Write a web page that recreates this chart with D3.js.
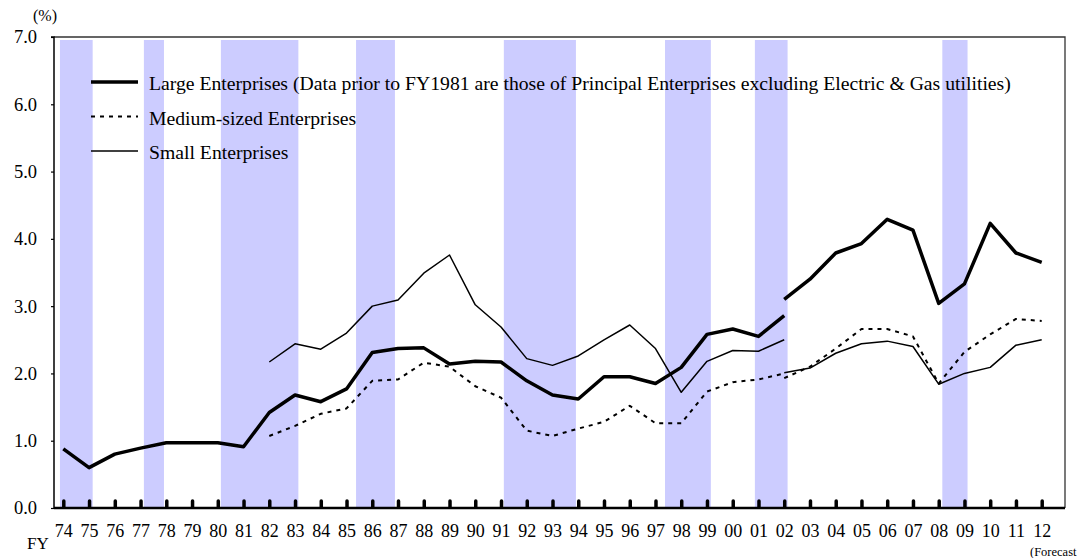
<!DOCTYPE html>
<html>
<head>
<meta charset="utf-8">
<script src="https://cdn.jsdelivr.net/npm/d3@7"></script>
<style>
  html, body { margin: 0; padding: 0; background: #fff; }
  svg { display: block; font-family: "Liberation Serif", "Times New Roman", serif; }
</style>
</head>
<body>
<div id="chart"></div>
<script>
// fiscal years (axis)
const years = d3.range(1974, 2013);

// large enterprises, old basis (FY74-02) and new basis (FY02-12)
const largeOldYears = d3.range(1974, 2003);
const largeOld = [0.88, 0.60, 0.80, 0.89, 0.97, 0.97, 0.97, 0.91, 1.42, 1.68,
  1.58, 1.77, 2.31, 2.37, 2.38, 2.14, 2.18, 2.17, 1.89, 1.68,
  1.62, 1.95, 1.95, 1.85, 2.09, 2.58, 2.66, 2.55, 2.86];
const newYears = d3.range(2002, 2013);
const largeNew = [3.10, 3.40, 3.79, 3.93, 4.29, 4.13, 3.04, 3.33, 4.23, 3.79, 3.65];

// medium-sized enterprises
const midOldYears = d3.range(1982, 2003);
const mediumOld = [1.07, 1.22, 1.40, 1.48, 1.89, 1.91, 2.16, 2.10, 1.81, 1.64,
  1.15, 1.07, 1.18, 1.28, 1.52, 1.26, 1.26, 1.73, 1.87, 1.91, 2.00];
const mediumNew = [1.93, 2.10, 2.37, 2.66, 2.66, 2.55, 1.85, 2.32, 2.58, 2.81, 2.78];

// small enterprises
const smallOld = [2.17, 2.44, 2.36, 2.60, 3.00, 3.09, 3.49, 3.76, 3.02, 2.69,
  2.22, 2.12, 2.26, 2.50, 2.72, 2.37, 1.72, 2.18, 2.34, 2.33, 2.50];
const smallNew = [2.01, 2.08, 2.30, 2.44, 2.48, 2.40, 1.84, 2.00, 2.09, 2.42, 2.50];

// shaded recession periods (fractional fiscal years)
const recessionStart = [1973.87, 1977.13, 1980.12, 1985.37, 1991.11, 1997.37, 2000.86, 2008.14];
const recessionEnd   = [1975.14, 1977.91, 1983.13, 1986.88, 1993.91, 1999.15, 2002.13, 2009.12];

const yTicks = [0, 1, 2, 3, 4, 5, 6, 7];
const legendLabels = [
  "Large Enterprises (Data prior to FY1981 are those of Principal Enterprises excluding Electric & Gas utilities)",
  "Medium-sized Enterprises",
  "Small Enterprises"
];

const W = 1081, H = 558;
const plot = {left: 54, right: 1065, top: 37, bottom: 508};

const svg = d3.select("#chart").append("svg")
  .attr("width", W).attr("height", H);

const x = d3.scaleLinear().domain([1974, 2012]).range([63.3, 1041.7]);
const y = d3.scaleLinear().domain([0, 7]).range([plot.bottom, plot.top]);

// recession bands
svg.append("g").selectAll("rect")
  .data(recessionStart.map((s, i) => [s, recessionEnd[i]]))
  .enter().append("rect")
    .attr("x", d => x(d[0]))
    .attr("width", d => x(d[1]) - x(d[0]))
    .attr("y", 40)
    .attr("height", plot.bottom - 40)
    .attr("fill", "#ccccff");

// top + right border
svg.append("path")
  .attr("d", `M${plot.left},${plot.top}H${plot.right}V${plot.bottom}`)
  .attr("fill", "none")
  .attr("stroke", "#333").attr("stroke-width", 1.3);

// y axis
svg.append("g")
  .attr("transform", `translate(${plot.left},0)`)
  .call(d3.axisLeft(y).tickValues(yTicks).tickFormat(d3.format(".1f")).tickSize(3).tickPadding(14))
  .call(g => g.select(".domain").attr("stroke-width", 1.5).attr("d", `M-3,${plot.top}H0V${plot.bottom}`))
  .call(g => g.selectAll(".tick line").attr("stroke-width", 1.2))
  .call(g => g.selectAll("text")
    .style("font-family", "Liberation Serif")
    .style("font-size", "18.5px")
    .attr("fill", "#000"));

// x axis
svg.append("g")
  .attr("transform", `translate(0,${plot.bottom})`)
  .call(d3.axisBottom(x).tickValues(years).tickFormat(d => String(d % 100).padStart(2, "0"))
    .tickSizeInner(-8).tickSizeOuter(0).tickPadding(16))
  .call(g => g.select(".domain").attr("stroke-width", 2.5).attr("d", `M${plot.left},0H${plot.right}`))
  .call(g => g.selectAll(".tick line").attr("stroke-width", 3.5).attr("stroke-linecap", "round")
    .attr("y1", -1.5).attr("y2", -7))
  .call(g => g.selectAll("text")
    .style("font-family", "Liberation Serif")
    .style("font-size", "18px")
    .attr("fill", "#000"));

// lines
const line = d3.line().x(d => x(d[0])).y(d => y(d[1]));
const zip = (ys, vs) => ys.map((yr, i) => [yr, vs[i]]);

const series = [
  {pts: zip(largeOldYears, largeOld), w: 3.5, dash: null},
  {pts: zip(newYears, largeNew), w: 3.5, dash: null},
  {pts: zip(midOldYears, mediumOld), w: 2, dash: "4,5"},
  {pts: zip(newYears, mediumNew), w: 2, dash: "4,5"},
  {pts: zip(midOldYears, smallOld), w: 1.5, dash: null},
  {pts: zip(newYears, smallNew), w: 1.5, dash: null}
];

svg.append("g").selectAll("path")
  .data(series)
  .enter().append("path")
    .attr("d", d => line(d.pts))
    .attr("fill", "none")
    .attr("stroke", "#000")
    .attr("stroke-width", d => d.w)
    .attr("stroke-dasharray", d => d.dash)
    .attr("stroke-linejoin", "round");

// legend
const legendStyle = [{w: 3.5, dash: null}, {w: 2, dash: "4,5"}, {w: 1.5, dash: null}];
const leg = svg.append("g")
  .selectAll("g")
  .data(legendLabels)
  .enter().append("g")
    .attr("transform", (d, i) => `translate(0,${82 + i * 34.5})`);
leg.append("line")
  .attr("x1", 91).attr("x2", 138)
  .attr("stroke", "#000")
  .attr("stroke-width", (d, i) => legendStyle[i].w)
  .attr("stroke-dasharray", (d, i) => legendStyle[i].dash);
leg.append("text")
  .attr("x", 149).attr("y", 8)
  .style("font-size", "19.7px")
  .text(d => d);

// unit labels
svg.append("text").attr("x", 33).attr("y", 21).style("font-size", "16px").text("(%)");
svg.append("text").attr("x", 27).attr("y", 549).style("font-size", "17px").text("FY");
svg.append("text").attr("x", 1030).attr("y", 556).style("font-size", "12.5px").text("(Forecast");
</script>
</body>
</html>
